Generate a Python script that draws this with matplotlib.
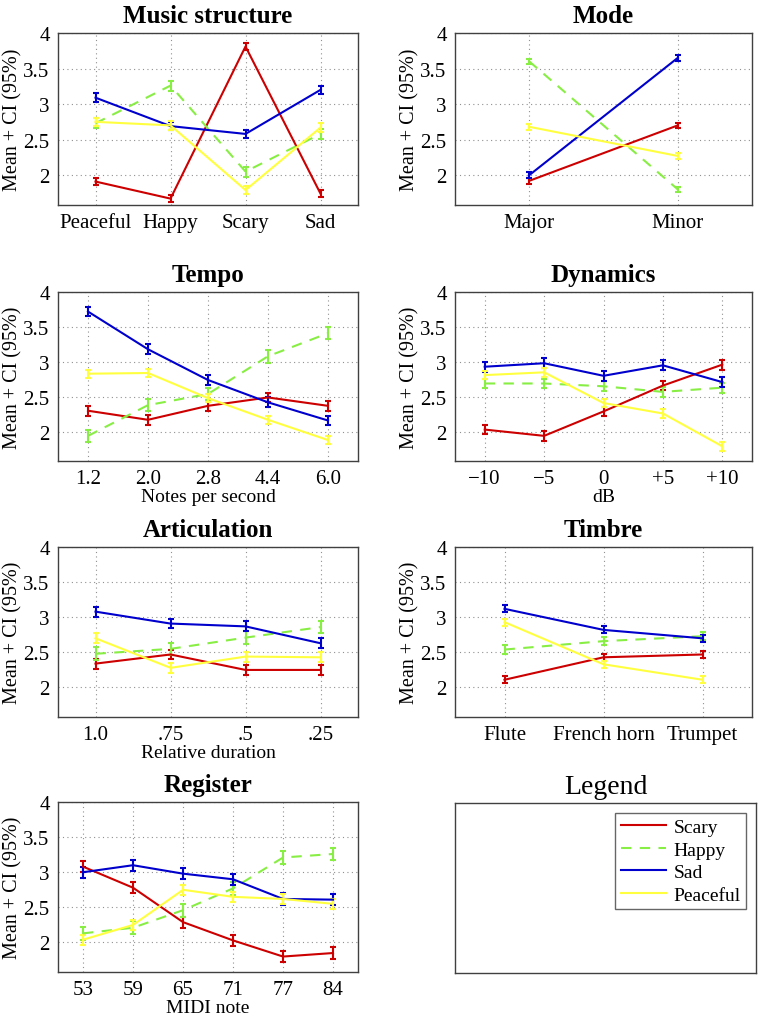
import matplotlib
matplotlib.use("Agg")
import matplotlib.pyplot as plt
from matplotlib.ticker import FormatStrFormatter
from matplotlib.lines import Line2D

plt.rcParams['font.family'] = ['Liberation Serif', 'DejaVu Serif']

emotions = ["Scary", "Happy", "Sad", "Peaceful"]
colors = {"Scary": "#cc0000", "Happy": "#88ee44", "Sad": "#0000cc", "Peaceful": "#ffff40"}
styles = {"Scary": "-", "Happy": "--", "Sad": "-", "Peaceful": "-"}

# Music structure
structure_labels = ["Peaceful", "Happy", "Scary", "Sad"]
structure_scary = [1.91, 1.67, 3.81, 1.74]
structure_happy = [2.73, 3.26, 2.05, 2.58]
structure_sad = [3.09, 2.69, 2.58, 3.20]
structure_peaceful = [2.75, 2.70, 1.79, 2.67]
structure_ci = [0.05, 0.07, 0.06, 0.06]

# Mode
mode_labels = ["Major", "Minor"]
mode_scary = [1.92, 2.70]
mode_happy = [3.60, 1.80]
mode_sad = [2.00, 3.65]
mode_peaceful = [2.68, 2.27]
mode_ci = [0.04, 0.04, 0.04, 0.04]

# Tempo
tempo_labels = ["1.2", "2.0", "2.8", "4.4", "6.0"]
tempo_scary = [2.30, 2.17, 2.37, 2.49, 2.37]
tempo_happy = [1.94, 2.38, 2.54, 3.08, 3.41]
tempo_sad = [3.72, 3.18, 2.74, 2.42, 2.16]
tempo_peaceful = [2.83, 2.84, 2.48, 2.17, 1.88]
tempo_ci = [0.07, 0.09, 0.07, 0.06]

# Dynamics
dynamics_labels = ["\u221210", "\u22125", "0", "+5", "+10"]
dynamics_scary = [2.03, 1.94, 2.29, 2.66, 2.96]
dynamics_happy = [2.69, 2.69, 2.65, 2.57, 2.63]
dynamics_sad = [2.93, 2.98, 2.80, 2.95, 2.71]
dynamics_peaceful = [2.81, 2.85, 2.41, 2.26, 1.79]
dynamics_ci = [0.07, 0.07, 0.07, 0.06]

# Articulation
articulation_labels = ["1.0", ".75", ".5", ".25"]
articulation_scary = [2.34, 2.47, 2.25, 2.25]
articulation_happy = [2.48, 2.55, 2.71, 2.86]
articulation_sad = [3.08, 2.91, 2.87, 2.63]
articulation_peaceful = [2.70, 2.28, 2.44, 2.43]
articulation_ci = [0.07, 0.09, 0.07, 0.07]

# Timbre
timbre_labels = ["Flute", "French horn", "Trumpet"]
timbre_scary = [2.11, 2.43, 2.47]
timbre_happy = [2.54, 2.66, 2.73]
timbre_sad = [3.12, 2.82, 2.70]
timbre_peaceful = [2.93, 2.33, 2.11]
timbre_ci = [0.05, 0.06, 0.05, 0.05]

# Register
register_labels = ["53", "59", "65", "71", "77", "84"]
register_scary = [3.08, 2.78, 2.29, 2.03, 1.80, 1.85]
register_happy = [2.13, 2.21, 2.46, 2.77, 3.21, 3.26]
register_sad = [3.00, 3.10, 2.98, 2.90, 2.62, 2.61]
register_peaceful = [2.04, 2.25, 2.75, 2.65, 2.62, 2.55]
register_ci = [0.08, 0.09, 0.08, 0.07]

panels = [
    ("Music structure", structure_labels, [structure_scary, structure_happy, structure_sad, structure_peaceful], structure_ci, None),
    ("Mode", mode_labels, [mode_scary, mode_happy, mode_sad, mode_peaceful], mode_ci, None),
    ("Tempo", tempo_labels, [tempo_scary, tempo_happy, tempo_sad, tempo_peaceful], tempo_ci, "Notes per second"),
    ("Dynamics", dynamics_labels, [dynamics_scary, dynamics_happy, dynamics_sad, dynamics_peaceful], dynamics_ci, "dB"),
    ("Articulation", articulation_labels, [articulation_scary, articulation_happy, articulation_sad, articulation_peaceful], articulation_ci, "Relative duration"),
    ("Timbre", timbre_labels, [timbre_scary, timbre_happy, timbre_sad, timbre_peaceful], timbre_ci, None),
    ("Register", register_labels, [register_scary, register_happy, register_sad, register_peaceful], register_ci, "MIDI note"),
]

W, H = 760, 1020
fig = plt.figure(figsize=(W / 100, H / 100), dpi=100)

cols = [(58, 358), (455, 752)]
rows = [(34, 206), (293, 462), (548, 718), (803, 973)]


def rect(col, row):
    x0, x1 = cols[col]
    y0, y1 = rows[row]
    return [x0 / W, 1 - y1 / H, (x1 - x0) / W, (y1 - y0) / H]


def style_axes(ax):
    for s in ax.spines.values():
        s.set_color("#404040")
        s.set_linewidth(1.0)
    ax.tick_params(length=0, labelsize=15, pad=6, colors="black")


for i, (title, labels, series, ci, xlabel) in enumerate(panels):
    ax = fig.add_axes(rect(i % 2, i // 2))
    x = list(range(1, len(labels) + 1))
    for name, vals, err in zip(emotions, series, ci):
        ax.errorbar(x, vals, yerr=err, color=colors[name], linestyle=styles[name],
                    linewidth=1.5, elinewidth=1.5, capsize=2, capthick=1.5,
                    dashes=(5, 4) if name == "Happy" else (None, None))
    ax.set_xlim(0.5, len(labels) + 0.5)
    ax.set_ylim(1.58, 4)
    ax.set_xticks(x)
    ax.set_xticklabels(labels)
    ax.set_yticks([2, 2.5, 3, 3.5, 4])
    ax.yaxis.set_major_formatter(FormatStrFormatter('%g'))
    ax.grid(True, linestyle=(0, (1, 3)), color="#909090", linewidth=0.8)
    ax.set_axisbelow(True)
    style_axes(ax)
    ax.set_title(title, fontsize=18, fontweight="bold", pad=8)
    ax.set_ylabel("Mean + CI (95%)", fontsize=14.5, labelpad=1)
    if xlabel:
        ax.set_xlabel(xlabel, fontsize=14, labelpad=0)

# legend panel
lax = fig.add_axes([455 / W, 1 - 974 / H, (756 - 455) / W, (974 - 804) / H])
lax.set_xticks([])
lax.set_yticks([])
for s in lax.spines.values():
    s.set_color("#404040")
    s.set_linewidth(1.0)
lax.set_title("Legend", fontsize=20, pad=7)
handles = []
for name in emotions:
    if name == "Happy":
        h = Line2D([], [], color=colors[name], linewidth=1.5, linestyle="--", dashes=(5, 4))
    else:
        h = Line2D([], [], color=colors[name], linewidth=1.5)
    handles.append(h)
leg = lax.legend(handles, emotions, loc="upper right", fontsize=14, frameon=True, fancybox=False,
                 edgecolor="#404040", handlelength=2.3, borderaxespad=0.5, labelspacing=0.25,
                 handletextpad=0.4, borderpad=0.3)
leg.get_frame().set_linewidth(1.0)

fig.savefig("out.png", dpi=100)
